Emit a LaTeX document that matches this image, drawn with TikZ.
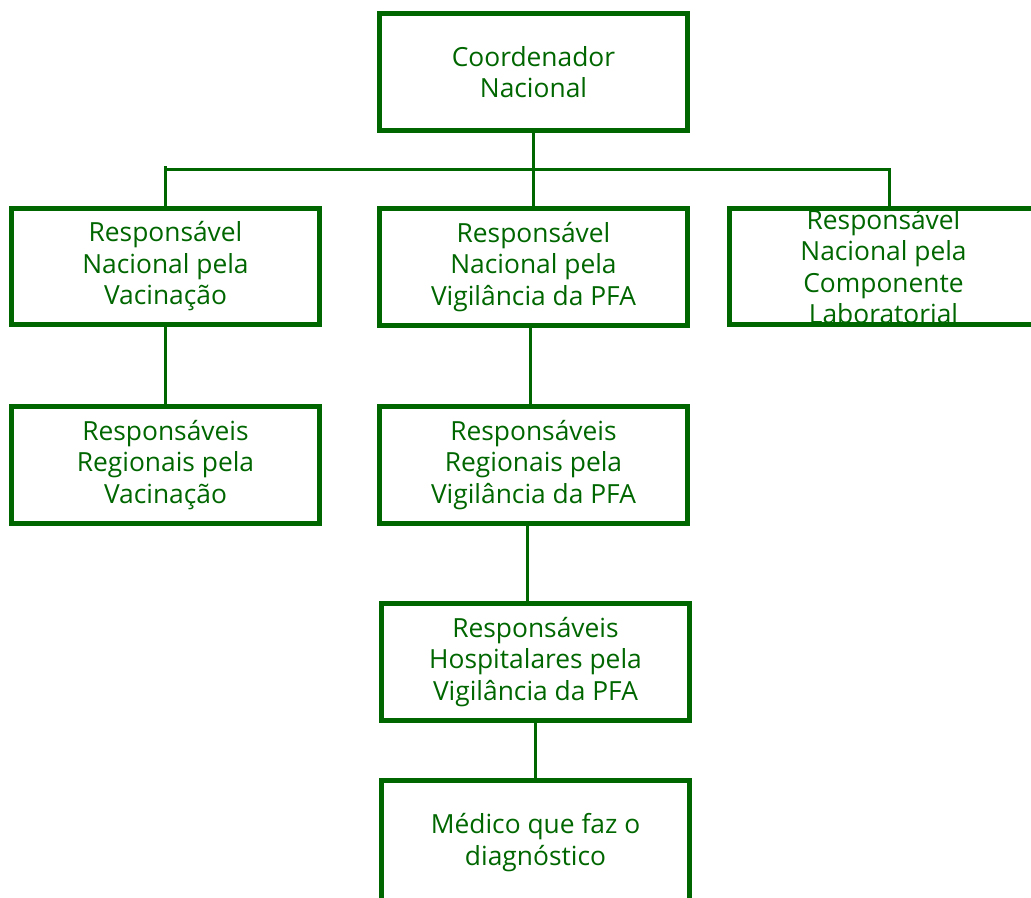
\documentclass[tikz,border=0pt]{standalone}
\usepackage{fontspec}
\setmainfont{Open Sans}
\usepackage{tikz}
\usetikzlibrary{positioning,calc}
\usepackage{xcolor}
\definecolor{verde}{RGB}{0,102,0}

\tikzset{
  caixa/.style={draw=verde, line width=0.1cm, minimum width=6.18cm, minimum height=2.34cm,
    inner sep=0pt, align=center, text=verde, font=\fontsize{15}{17.9}\selectfont,
    execute at begin node={\rule{0pt}{17pt}}},
  linha/.style={draw=verde, line width=0.06cm}
}

\begin{document}
\begin{tikzpicture}[x=0.02cm, y=-0.02cm]
  \useasboundingbox (0,0) rectangle (1031,897);
  % caixas
  \node[caixa] (coord) at (533.5,72) {Coordenador\\Nacional};
  \node[caixa] (vac) at (165.5,266.5) {Responsável\\Nacional pela\\Vacinação};
  \node[caixa] (vig) at (533.5,267) {Responsável\\Nacional pela\\Vigilância da PFA};
  \node[caixa] (lab) at (883.5,266.5) {Responsável\\Nacional pela\\Componente\\Laboratorial};
  \node[caixa] (regvac) at (165.5,465) {Responsáveis\\Regionais pela\\Vacinação};
  \node[caixa] (regvig) at (533.5,465) {Responsáveis\\Regionais pela\\Vigilância da PFA};
  \node[caixa] (hosp) at (535.5,662) {Responsáveis\\Hospitalares pela\\Vigilância da PFA};
  \node[caixa, minimum height=2.5cm] (med) at (535.5,842.5) {Médico que faz o\\diagnóstico};
  % ligações
  \coordinate (barE) at (165,169);
  \coordinate (barD) at (889,169);
  \draw[linha] (coord.south) -- (vig.north);
  \draw[linha] ($(barE)+(0,-3)$) -- (barE) -- (barD) -- (barD |- lab.north);
  \draw[linha] (barE) -- (barE |- vac.north);
  \draw[linha] (vac.south) -- (regvac.north);
  \draw[linha] ([xshift=-0.07cm]vig.south) -- ([xshift=-0.07cm]vig.south |- regvig.north);
  \draw[linha] ([xshift=-0.13cm]regvig.south) -- ([xshift=-0.13cm]regvig.south |- hosp.north);
  \draw[linha] (hosp.south) -- (med.north);
\end{tikzpicture}
\end{document}
